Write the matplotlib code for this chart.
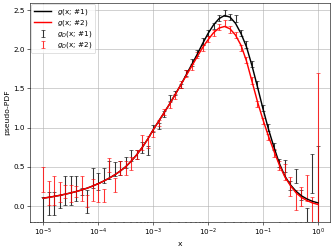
import matplotlib
matplotlib.use("Agg")
import matplotlib.pyplot as plt
import numpy as np

# log10(x) grid of the sampled points
logx = [-5.0, -4.9, -4.8, -4.7, -4.6, -4.5, -4.4, -4.3, -4.2, -4.1,
        -4.0, -3.9, -3.8, -3.7, -3.6, -3.5, -3.4, -3.3, -3.2, -3.1,
        -3.0, -2.9, -2.8, -2.7, -2.6, -2.5, -2.4, -2.3, -2.2, -2.1,
        -2.0, -1.9, -1.8, -1.7, -1.6, -1.5, -1.4, -1.3, -1.2, -1.1,
        -1.0, -0.9, -0.8, -0.7, -0.6, -0.5, -0.4, -0.3, -0.2, -0.1, 0.0]

# model curves g(x; #1), g(x; #2)
g1 = [0.100, 0.111, 0.123, 0.136, 0.151, 0.167, 0.185, 0.205, 0.228, 0.255,
      0.285, 0.318, 0.355, 0.397, 0.445, 0.500, 0.571, 0.652, 0.745, 0.851,
      0.970, 1.08, 1.19, 1.30, 1.42, 1.54, 1.67, 1.80, 1.93, 2.07,
      2.20, 2.31, 2.39, 2.43, 2.41, 2.33, 2.20, 2.03, 1.79, 1.52,
      1.24, 0.98, 0.75, 0.54, 0.38, 0.27, 0.19, 0.13, 0.09, 0.06, 0.04]
g2 = [0.100, 0.111, 0.123, 0.136, 0.151, 0.167, 0.185, 0.205, 0.228, 0.255,
      0.285, 0.318, 0.355, 0.397, 0.445, 0.500, 0.571, 0.652, 0.745, 0.851,
      0.970, 1.08, 1.19, 1.30, 1.42, 1.54, 1.66, 1.78, 1.90, 2.02,
      2.12, 2.21, 2.27, 2.29, 2.26, 2.18, 2.05, 1.85, 1.59, 1.33,
      1.10, 0.89, 0.70, 0.52, 0.37, 0.26, 0.17, 0.11, 0.07, 0.04, 0.02]

# data points g_D with errors
gd1 = [-0.05, 0.03, 0.035, 0.055, 0.195, 0.195, 0.22, 0.185, 0.055, 0.355,
       0.31, 0.39, 0.46, 0.47, 0.485, 0.555, 0.645, 0.66, 0.75, 0.705,
       0.99, 1.02, 1.17, 1.38, 1.44, 1.53, 1.70, 1.83, 1.95, 2.10,
       2.21, 2.30, 2.40, 2.46, 2.41, 2.39, 2.21, 2.06, 1.81, 1.55,
       1.25, 1.00, 0.76, 0.55, 0.51, 0.26, 0.38, 0.14, -0.13, 0.41, 0.27]
gd1_err = [0.17, 0.15, 0.145, 0.085, 0.185, 0.185, 0.16, 0.045, 0.145, 0.125,
           0.11, 0.10, 0.11, 0.09, 0.085, 0.075, 0.075, 0.06, 0.07, 0.055,
           0.04, 0.04, 0.04, 0.04, 0.03, 0.03, 0.04, 0.04, 0.04, 0.04,
           0.04, 0.04, 0.04, 0.04, 0.04, 0.04, 0.04, 0.04, 0.04, 0.04,
           0.04, 0.04, 0.05, 0.05, 0.08, 0.06, 0.09, 0.06, 0.11, 0.25, 0.49]
gd2 = [0.34, 0.165, 0.195, 0.18, 0.185, 0.16, 0.185, 0.22, 0.065, 0.21,
       0.17, 0.135, 0.525, 0.27, 0.485, 0.485, 0.545, 0.66, 0.815, 0.815,
       0.92, 1.06, 1.20, 1.29, 1.40, 1.55, 1.69, 1.77, 1.93, 2.02,
       2.13, 2.21, 2.28, 2.33, 2.25, 2.18, 2.02, 1.86, 1.60, 1.30,
       1.08, 0.88, 0.68, 0.52, 0.43, 0.25, 0.08, 0.12, 0.23, -0.05, 0.70]
gd2_err = [0.16, 0.155, 0.185, 0.13, 0.085, 0.11, 0.065, 0.16, 0.075, 0.14,
           0.12, 0.085, 0.085, 0.09, 0.095, 0.095, 0.085, 0.06, 0.095, 0.075,
           0.04, 0.04, 0.04, 0.04, 0.03, 0.04, 0.04, 0.04, 0.04, 0.04,
           0.04, 0.04, 0.04, 0.04, 0.04, 0.04, 0.04, 0.04, 0.04, 0.04,
           0.04, 0.04, 0.05, 0.06, 0.10, 0.12, 0.13, 0.12, 0.17, 0.17, 1.00]

x = 10.0 ** np.array(logx)

# default-size figure rendered at a small dpi -> 332x249 px
fig = plt.figure(figsize=(6.4, 4.8), dpi=51.875)
ax = fig.add_axes([0.0904, 0.1096, 0.9036, 0.8795])

ax.plot(x, g1, color="k", lw=2, label=r"$g$(x; #1)", zorder=3)
ax.plot(x, g2, color="r", lw=2, label=r"$g$(x; #2)", zorder=3)
ax.errorbar(x, gd1, yerr=gd1_err, fmt="none", ecolor="k", elinewidth=1.5,
            capsize=2.5, alpha=0.8, label=r"$g_D$(x; #1)")
ax.errorbar(x, gd2, yerr=gd2_err, fmt="none", ecolor="r", elinewidth=1.5,
            capsize=2.5, alpha=0.8, label=r"$g_D$(x; #2)")

ax.set_xscale("log")
ax.set_xlim(10 ** -5.24, 10 ** 0.22)
ax.set_ylim(-0.2, 2.593)
ax.set_yticks([0.0, 0.5, 1.0, 1.5, 2.0, 2.5])
ax.grid(True)
ax.set_axisbelow(True)
ax.set_xlabel("x", fontsize=10.5)
ax.set_ylabel("pseudo-PDF", fontsize=10.5)
ax.legend(loc="upper left", borderaxespad=0.2, labelspacing=0.15,
          handlelength=2.3, handletextpad=0.8)

fig.savefig("out.png", dpi=51.875)
